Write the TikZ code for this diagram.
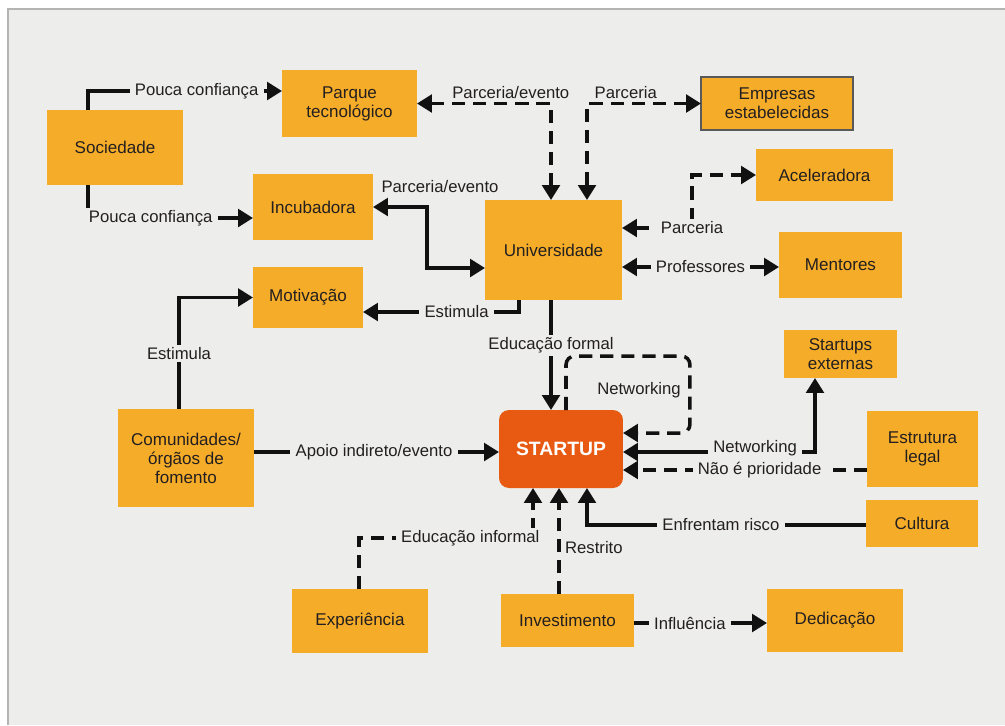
\documentclass[tikz,border=0pt]{standalone}
\usepackage{fontspec}
\setmainfont{Liberation Sans}
\usetikzlibrary{arrows.meta,calc}
\definecolor{bg}{HTML}{EDEDEB}
\definecolor{frame}{HTML}{B4B4B4}
\definecolor{boxc}{HTML}{F5AC28}
\definecolor{startc}{HTML}{E85A12}
\definecolor{txt}{HTML}{231F20}
\definecolor{lc}{HTML}{111111}
\begin{document}
\begin{tikzpicture}[x=0.02cm,y=-0.02cm,
  >={Triangle[length=8.5pt,width=10pt]},
  box/.style={fill=boxc,inner sep=0pt,outer sep=0pt,align=center,text=txt,
    font=\fontsize{9.7}{10.8}\selectfont},
  arr/.style={draw=lc,line width=2pt},
  dsh/.style={arr,dash pattern=on 7.5pt off 4.5pt},
  lbl/.style={fill=bg,inner xsep=3pt,inner ysep=1.5pt,text=txt,font=\fontsize{9.5}{11}\selectfont},
  plain/.style={inner sep=1.5pt,text=txt,font=\fontsize{9.5}{11}\selectfont}]
\useasboundingbox (0,0) rectangle (1005,725);
\fill[white] (0,0) rectangle (1005,725);
\fill[bg] (8,9) rectangle (1005,725);
\draw[frame,line width=1.2pt] (8,725) -- (8,9) -- (1005,9);

% boxes
\node[box,minimum width=2.72cm,minimum height=1.5cm] (soc) at (115,147.5) {Sociedade};
\node[box,minimum width=2.7cm,minimum height=1.34cm] (parque) at (349.5,103.5) {Parque\\tecnológico};
\node[box,minimum width=2.4cm,minimum height=1.32cm] (incub) at (313,207) {Incubadora};
\node[box,minimum width=3.04cm,minimum height=1.06cm,draw=black!65,line width=0.6pt] (empresas) at (777,103.5) {Empresas\\estabelecidas};
\node[box,minimum width=2.74cm,minimum height=1.04cm] (acel) at (824.5,175) {Aceleradora};
\node[box,minimum width=2.74cm,minimum height=2cm] (univ) at (553.5,250) {Universidade};
\node[box,minimum width=2.46cm,minimum height=1.32cm] (mentores) at (840.5,265) {Mentores};
\node[box,minimum width=2.2cm,minimum height=1.22cm] (motiv) at (308,297.5) {Motivação};
\node[box,minimum width=2.72cm,minimum height=1.96cm] (comun) at (186,458) {Comunidades/\\órgãos de\\fomento};
\node[box,fill=startc,rounded corners=0.2cm,minimum width=2.48cm,minimum height=1.56cm,text=white,font=\bfseries\fontsize{11}{13}\selectfont] (startup) at (561,449) {STARTUP};
\node[box,minimum width=2.26cm,minimum height=0.96cm] (startext) at (840.5,354) {Startups\\externas};
\node[box,minimum width=2.22cm,minimum height=1.52cm] (estrut) at (922.5,449) {Estrutura\\legal};
\node[box,minimum width=2.24cm,minimum height=0.94cm] (cultura) at (922,523.5) {Cultura};
\node[box,minimum width=2.72cm,minimum height=1.28cm] (exper) at (360,621) {Experiência};
\node[box,minimum width=2.66cm,minimum height=1.06cm] (invest) at (567.5,620.5) {Investimento};
\node[box,minimum width=2.72cm,minimum height=1.26cm] (dedic) at (835,620.5) {Dedicação};

% connectors
\draw[arr,->] ($(soc.north)+(-27,0)$) |- node[lbl,pos=0.78] (l1) {Pouca confiança} ($(parque.west)+(0,-12.5)$);
\draw[arr,->] ($(soc.south)+(-27,0)$) |- node[lbl,pos=0.69] (l2) {Pouca confiança} ($(incub.west)+(0,11)$);
\draw[dsh,<->] (parque.east) -| node[plain,anchor=south,pos=0.35] (l3) {Parceria/evento} ($(univ.north)+(-2.5,0)$);
\draw[dsh,<->] (empresas.west) -| node[plain,anchor=south,pos=0.33] (l4) {Parceria} ($(univ.north)+(33.5,0)$);
\draw[arr,<->] (incub.east) -- ++(54,0) |- ($(univ.west)+(0,18)$);
\node[plain] (l5) at ($(incub.east)+(67,-20)$) {Parceria/evento};
\draw[dsh,<->] ($(univ.east)+(0,-22)$) -| node[lbl,pos=0.5] (l6) {Parceria} ($(acel.west)+(-64,0)$) -- (acel.west);
\draw[arr,<->] ($(univ.east)+(0,17)$) -- node[lbl] (l7) {Professores} ($(mentores.west)+(0,2)$);
\draw[arr,->] ($(univ.south)+(-34.5,0)$) |- node[lbl,pos=0.7] (l8) {Estimula} ($(motiv.east)+(0,14.5)$);
\draw[arr,->] ($(univ.south)+(-2.5,0)$) -- node[lbl,pos=0.41] (l9) {Educação formal} ($(startup.north)+(-10,0)$);
\draw[arr,->] ($(comun.north)+(-7,0)$) |- node[lbl,pos=0.25] (l10) {Estimula} (motiv.west);
\draw[arr,->] ($(comun.east)+(0,-6)$) -- node[lbl,pos=0.49] (l11) {Apoio indireto/evento} ($(startup.west)+(0,3)$);
\draw[dsh,->,rounded corners=5pt] ($(startup.north)+(5,0)$) |- ($(startup.east)+(67,-93)$) |- ($(startup.east)+(0,-16)$);
\node[plain] (l12) at ($(startup.north)+(78,-20)$) {Networking};
\draw[arr,<->] ($(startup.east)+(0,3)$) -| node[lbl,pos=0.344,yshift=2pt] (l13) {Networking} ($(startext.south)+(-25.5,0)$);
\draw[dsh,->] ($(estrut.west)+(0,21)$) -- node[lbl,pos=0.44] (l14) {Não é prioridade} ($(startup.east)+(0,21)$);
\draw[arr,->] ($(cultura.west)+(0,1.5)$) -| node[lbl,pos=0.26] (l15) {Enfrentam risco} ($(startup.south)+(26,0)$);
\draw[dsh,->] ($(exper.north)+(-1,0)$) |- node[lbl,pos=0.82] (l16) {Educação informal} ($(startup.south)+(-28,50)$) -- ($(startup.south)+(-28,0)$);
\draw[dsh,->] ($(invest.north)+(-8.5,0)$) -- node[plain,anchor=west,pos=0.44,xshift=1pt] (l17) {Restrito} ($(startup.south)+(-2,0)$);
\draw[arr,->] ($(invest.east)+(0,2.5)$) -- node[lbl,pos=0.42] (l18) {Influência} ($(dedic.west)+(0,2.5)$);
\end{tikzpicture}
\end{document}
